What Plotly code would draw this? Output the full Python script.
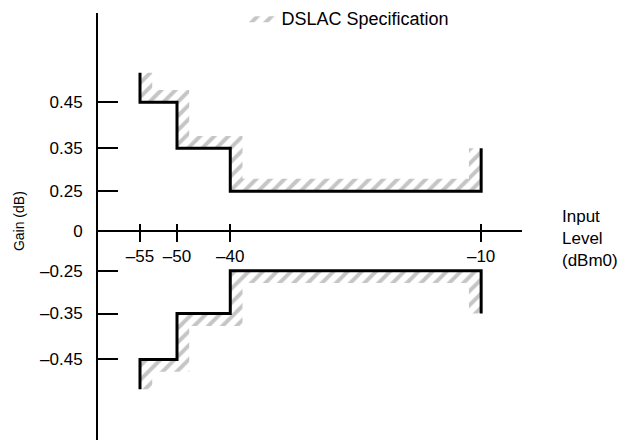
import numpy as np
import plotly.graph_objects as go

# ---------------- data ----------------
INPUT_LEVEL = [-55, -50, -40, -10]            # dBm0 break points
UPPER_STEP_GAIN = [0.45, 0.35, 0.25]           # gain between break points (upper limit)
LOWER_STEP_GAIN = [-0.45, -0.35, -0.25]        # gain between break points (lower limit)
UPPER_ENDS = [0.52, 0.35]                      # gain at start / end of upper mask
LOWER_ENDS = [-0.52, -0.35]                    # gain at start / end of lower mask
GAIN_TICKS = [0.45, 0.35, 0.25, 0, -0.25, -0.35, -0.45]
GAIN_TICK_TEXT = ["0.45", "0.35", "0.25", "0", "\u20130.25", "\u20130.35", "\u20130.45"]
LEVEL_TICK_TEXT = ["\u201355", "\u201350", "\u201340", "\u201310"]

# ---------------- schematic (non-linear) axis scales ----------------
X_KNOT_POS = [0.0, 1.0, 2.44, 9.22]
Y_KNOT_GAIN = [-0.55, -0.45, -0.35, -0.25, 0.0, 0.25, 0.35, 0.45, 0.55]
Y_KNOT_POS = [-3.87, -2.91, -1.87, -0.90, 0.0, 0.90, 1.87, 2.91, 3.87]


def xs(v):
    return np.interp(v, INPUT_LEVEL, X_KNOT_POS)


def ys(g):
    return np.interp(g, Y_KNOT_GAIN, Y_KNOT_POS)


def step_path(steps, ends):
    L = xs(INPUT_LEVEL)
    g = ys(steps)
    e = ys(ends)
    x = [L[0], L[0], L[1], L[1], L[2], L[2], L[3], L[3]]
    y = [e[0], g[0], g[0], g[1], g[1], g[2], g[2], e[1]]
    return x, y


def hatch_poly(steps, ends, sign, dx=0.33, dy=0.28):
    L = xs(INPUT_LEVEL)
    g = ys(steps)
    e = ys(ends)
    ox, oy = step_path(steps, ends)
    ix = [L[3] - dx, L[3] - dx, L[2] + dx, L[2] + dx, L[1] + dx, L[1] + dx, L[0] + dx, L[0] + dx]
    iy = [e[1], g[2] + sign * dy, g[2] + sign * dy, g[1] + sign * dy, g[1] + sign * dy,
          g[0] + sign * dy, g[0] + sign * dy, e[0]]
    return ox + ix + [ox[0]], oy + iy + [oy[0]]


FONT = "Liberation Sans, Arial, Helvetica, sans-serif"
pattern = dict(shape="/", fgcolor="#8c8c8c", bgcolor="white", size=10, solidity=0.4)

fig = go.Figure()
for i, (steps, ends, sign) in enumerate([(UPPER_STEP_GAIN, UPPER_ENDS, 1),
                                          (LOWER_STEP_GAIN, LOWER_ENDS, -1)]):
    hx, hy = hatch_poly(steps, ends, sign)
    fig.add_trace(go.Scatter(x=hx, y=hy, mode="lines", fill="toself",
                             fillpattern=pattern, fillcolor="white",
                             line=dict(width=0, color="rgba(0,0,0,0)"),
                             name="DSLAC Specification", legendgroup="spec",
                             showlegend=(i == 0), hoverinfo="skip"))
for steps, ends in [(UPPER_STEP_GAIN, UPPER_ENDS), (LOWER_STEP_GAIN, LOWER_ENDS)]:
    lx, ly = step_path(steps, ends)
    fig.add_trace(go.Scatter(x=lx, y=ly, mode="lines",
                             line=dict(color="black", width=3, shape="linear"),
                             showlegend=False, legendgroup="spec", hoverinfo="skip"))

W, H = 621, 440
ML, MR, MT, MB = 97, 99, 5, 0
plot_w = W - ML - MR
plot_h = H - MT - MB
x_range = [-1.162, 10.324]
y_range = [-4.733, 4.933]
x_axis_pos = (0 - y_range[0]) / (y_range[1] - y_range[0])

fig.update_layout(
    width=W, height=H,
    margin=dict(l=ML, r=MR, t=MT, b=MB),
    paper_bgcolor="white", plot_bgcolor="white",
    font=dict(family=FONT, color="black", size=17),
    xaxis=dict(range=x_range, domain=[0, 1], anchor="free", position=x_axis_pos,
               showline=True, linecolor="black", linewidth=2,
               ticks="outside", ticklen=10, tickwidth=2, tickcolor="black",
               tickvals=list(xs(INPUT_LEVEL)), ticktext=LEVEL_TICK_TEXT,
               tickfont=dict(size=17), showgrid=False, zeroline=False),
    xaxis2=dict(range=x_range, overlaying="x", anchor="free", position=x_axis_pos,
                showline=False, ticks="inside", ticklen=7, tickwidth=2, tickcolor="black",
                tickvals=list(xs(INPUT_LEVEL)), showticklabels=False,
                showgrid=False, zeroline=False),
    yaxis=dict(range=y_range, domain=[0, 1], anchor="free", position=0,
               showline=True, linecolor="black", linewidth=2,
               ticks="inside", ticklen=20, tickwidth=2, tickcolor="black",
               tickvals=list(ys(GAIN_TICKS)), ticktext=GAIN_TICK_TEXT,
               tickfont=dict(size=17), ticklabelstandoff=10,
               showgrid=False, zeroline=False),
    legend=dict(x=0.34, y=1.031, xanchor="left", yanchor="top",
                font=dict(size=18), bgcolor="rgba(0,0,0,0)"),
    showlegend=True,
    annotations=[
        dict(text="Gain (dB)", xref="paper", yref="paper",
             x=(19 - ML) / plot_w, y=(H - 217) / plot_h,
             textangle=-90, showarrow=False, font=dict(size=14),
             xanchor="center", yanchor="middle"),
        dict(text="Input<br>Level<br>(dBm0)", xref="paper", yref="paper",
             x=(560 - ML) / plot_w, y=(H - 235) / plot_h,
             showarrow=False, align="left", xanchor="left", yanchor="middle",
             font=dict(size=17)),
    ],
)
# dummy trace so xaxis2 is rendered
fig.add_trace(go.Scatter(x=[None], y=[None], xaxis="x2", showlegend=False, hoverinfo="skip"))

fig.write_html("out.html", config={"displayModeBar": False},
               post_script="document.body.style.margin='0px';")
